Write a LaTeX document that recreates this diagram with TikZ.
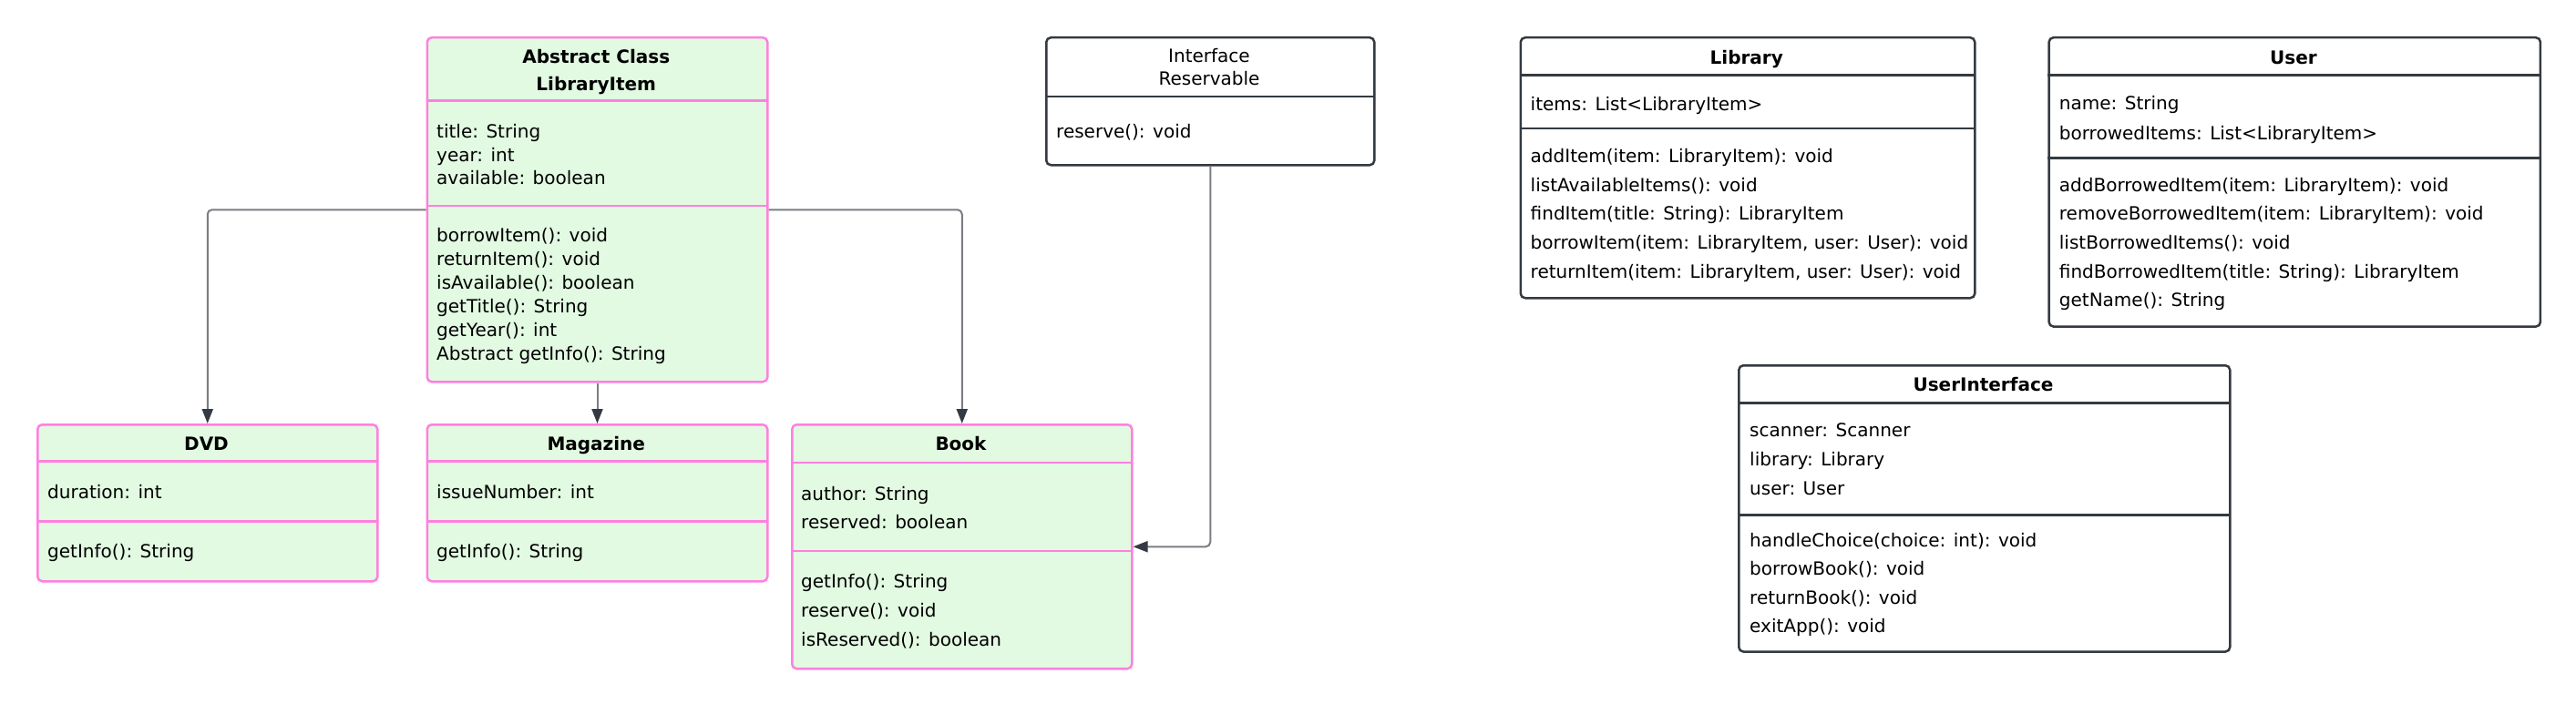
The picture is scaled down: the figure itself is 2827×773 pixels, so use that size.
\documentclass[tikz,border=0pt]{standalone}
\usepackage{fontspec}
\setmainfont{DejaVu Sans}
\usetikzlibrary{arrows.meta}
\definecolor{pinkc}{HTML}{FF80E0}
\definecolor{greenf}{HTML}{E2F9E2}
\definecolor{darkc}{HTML}{343A40}
\definecolor{connc}{HTML}{7A7D83}
\definecolor{arrc}{HTML}{333A44}
\tikzset{
 greenbox/.style={draw=pinkc, fill=greenf, line width=2.5pt, rounded corners=5pt, inner sep=0pt, anchor=north west},
 plainbox/.style={draw=darkc, fill=white, line width=2.5pt, rounded corners=5pt, inner sep=0pt, anchor=north west},
 pinksep/.style={draw=pinkc, line width=2.5pt},
 darksep/.style={draw=darkc, line width=2.5pt},
 txt/.style={font=\fontsize{20}{24}\selectfont, inner sep=0pt, text height=15pt, text depth=0pt, anchor=west},
 ttl/.style={txt, font=\fontsize{20}{24}\selectfont\bfseries, anchor=center},
 ttlr/.style={txt, anchor=center},
 conn/.style={draw=connc, line width=2pt, rounded corners=5pt, -{Triangle[length=16pt,width=12pt,color=arrc]}},
}
\newcommand{\umllines}[5]{%
  \foreach \t [count=\i from 0] in {#5} {\node[txt] (#1-\i) at (#2,{#3+\i*#4}) {\t};}%
}
\begin{document}
\begin{tikzpicture}[x=1pt,y=-1pt]
\fill[white] (0,0) rectangle (2827,773);
\useasboundingbox (0,0) rectangle (2827,773);

% LibraryItem
\node[greenbox, minimum width=373.5pt, minimum height=378pt] (li) at (467.5,40) {};
\draw[pinksep] (467.5,110.7) -- (841,110.7);
\draw[pinksep] (467.5,226) -- (841,226);
\node[ttl] (li-t1) at (654.25,61.7) {Abstract Class};
\node[ttl] (li-t2) at (654.25,91.7) {LibraryItem};
\umllines{li-a}{479}{144}{25.7}{title: String, year: int, available: boolean}
\umllines{li-m}{479}{258}{25.9}{borrowItem(): void, returnItem(): void, isAvailable(): boolean, getTitle(): String, getYear(): int, Abstract getInfo(): String}

% DVD
\node[greenbox, minimum width=373pt, minimum height=172pt] (dvd) at (40,465) {};
\draw[pinksep] (40,506.7) -- (413,506.7);
\draw[pinksep] (40,572.3) -- (413,572.3);
\node[ttl] (dvd-t) at (226.5,486.7) {DVD};
\umllines{dvd-a}{52}{540}{0}{duration: int}
\umllines{dvd-m}{52}{605}{0}{getInfo(): String}

% Magazine
\node[greenbox, minimum width=373.5pt, minimum height=172pt] (mag) at (467.5,465) {};
\draw[pinksep] (467.5,506.7) -- (841,506.7);
\draw[pinksep] (467.5,572.3) -- (841,572.3);
\node[ttl] (mag-t) at (654.25,486.7) {Magazine};
\umllines{mag-a}{479}{540}{0}{issueNumber: int}
\umllines{mag-m}{479}{605}{0}{getInfo(): String}

% Book
\node[greenbox, minimum width=373pt, minimum height=268pt] (book) at (868,465) {};
\draw[pinksep] (868,508) -- (1241,508);
\draw[pinksep] (868,605) -- (1241,605);
\node[ttl] (book-t) at (1054.5,486.7) {Book};
\umllines{book-a}{879}{541.7}{31.6}{author: String, reserved: boolean}
\umllines{book-m}{879}{638}{32.2}{getInfo(): String, reserve(): void, isReserved(): boolean}

% Reservable
\node[plainbox, minimum width=360pt, minimum height=140pt] (res) at (1147,40) {};
\draw[darksep] (1147,105.8) -- (1507,105.8);
\node[ttlr] (res-t1) at (1327,61.5) {Interface};
\node[ttlr] (res-t2) at (1327,86) {Reservable};
\umllines{res-m}{1159}{143.8}{0}{reserve(): void}

% Library
\node[plainbox, minimum width=498.5pt, minimum height=286pt] (lib) at (1667.5,40) {};
\draw[darksep] (1667.5,82.7) -- (2166,82.7);
\draw[darksep] (1667.5,141) -- (2166,141);
\node[ttl] (lib-t) at (1916.75,62.7) {Library};
\umllines{lib-a}{1679.5}{114}{0}{items: List<LibraryItem>}
\umllines{lib-m}{1679.5}{171}{31.7}{addItem(item: LibraryItem): void, listAvailableItems(): void, findItem(title: String): LibraryItem, {borrowItem(item: LibraryItem, user: User): void}, {returnItem(item: LibraryItem, user: User): void}}

% User
\node[plainbox, minimum width=539.4pt, minimum height=317.3pt] (user) at (2247.3,40) {};
\draw[darksep] (2247.3,82.7) -- (2786.7,82.7);
\draw[darksep] (2247.3,173.3) -- (2786.7,173.3);
\node[ttl] (user-t) at (2517,62.7) {User};
\umllines{user-a}{2259.7}{113.3}{32.4}{name: String, borrowedItems: List<LibraryItem>}
\umllines{user-m}{2259.7}{202.7}{31.65}{addBorrowedItem(item: LibraryItem): void, removeBorrowedItem(item: LibraryItem): void, listBorrowedItems(): void, findBorrowedItem(title: String): LibraryItem, getName(): String}

% UserInterface
\node[plainbox, minimum width=539pt, minimum height=314.3pt] (ui) at (1907,400) {};
\draw[darksep] (1907,442.7) -- (2446,442.7);
\draw[darksep] (1907,565.7) -- (2446,565.7);
\node[ttl] (ui-t) at (2176.5,421.7) {UserInterface};
\umllines{ui-a}{1920}{472.3}{31.7}{scanner: Scanner, library: Library, user: User}
\umllines{ui-m}{1920}{593.3}{31.1}{handleChoice(choice: int): void, borrowBook(): void, returnBook(): void, exitApp(): void}

% connectors
\draw[conn] (li.west) -| (dvd.north);
\draw[conn] (li.south) -- (mag.north);
\draw[conn] (li.east) -| (book.north);
\draw[conn] (res.south) |- (book.east);
\end{tikzpicture}
\end{document}
